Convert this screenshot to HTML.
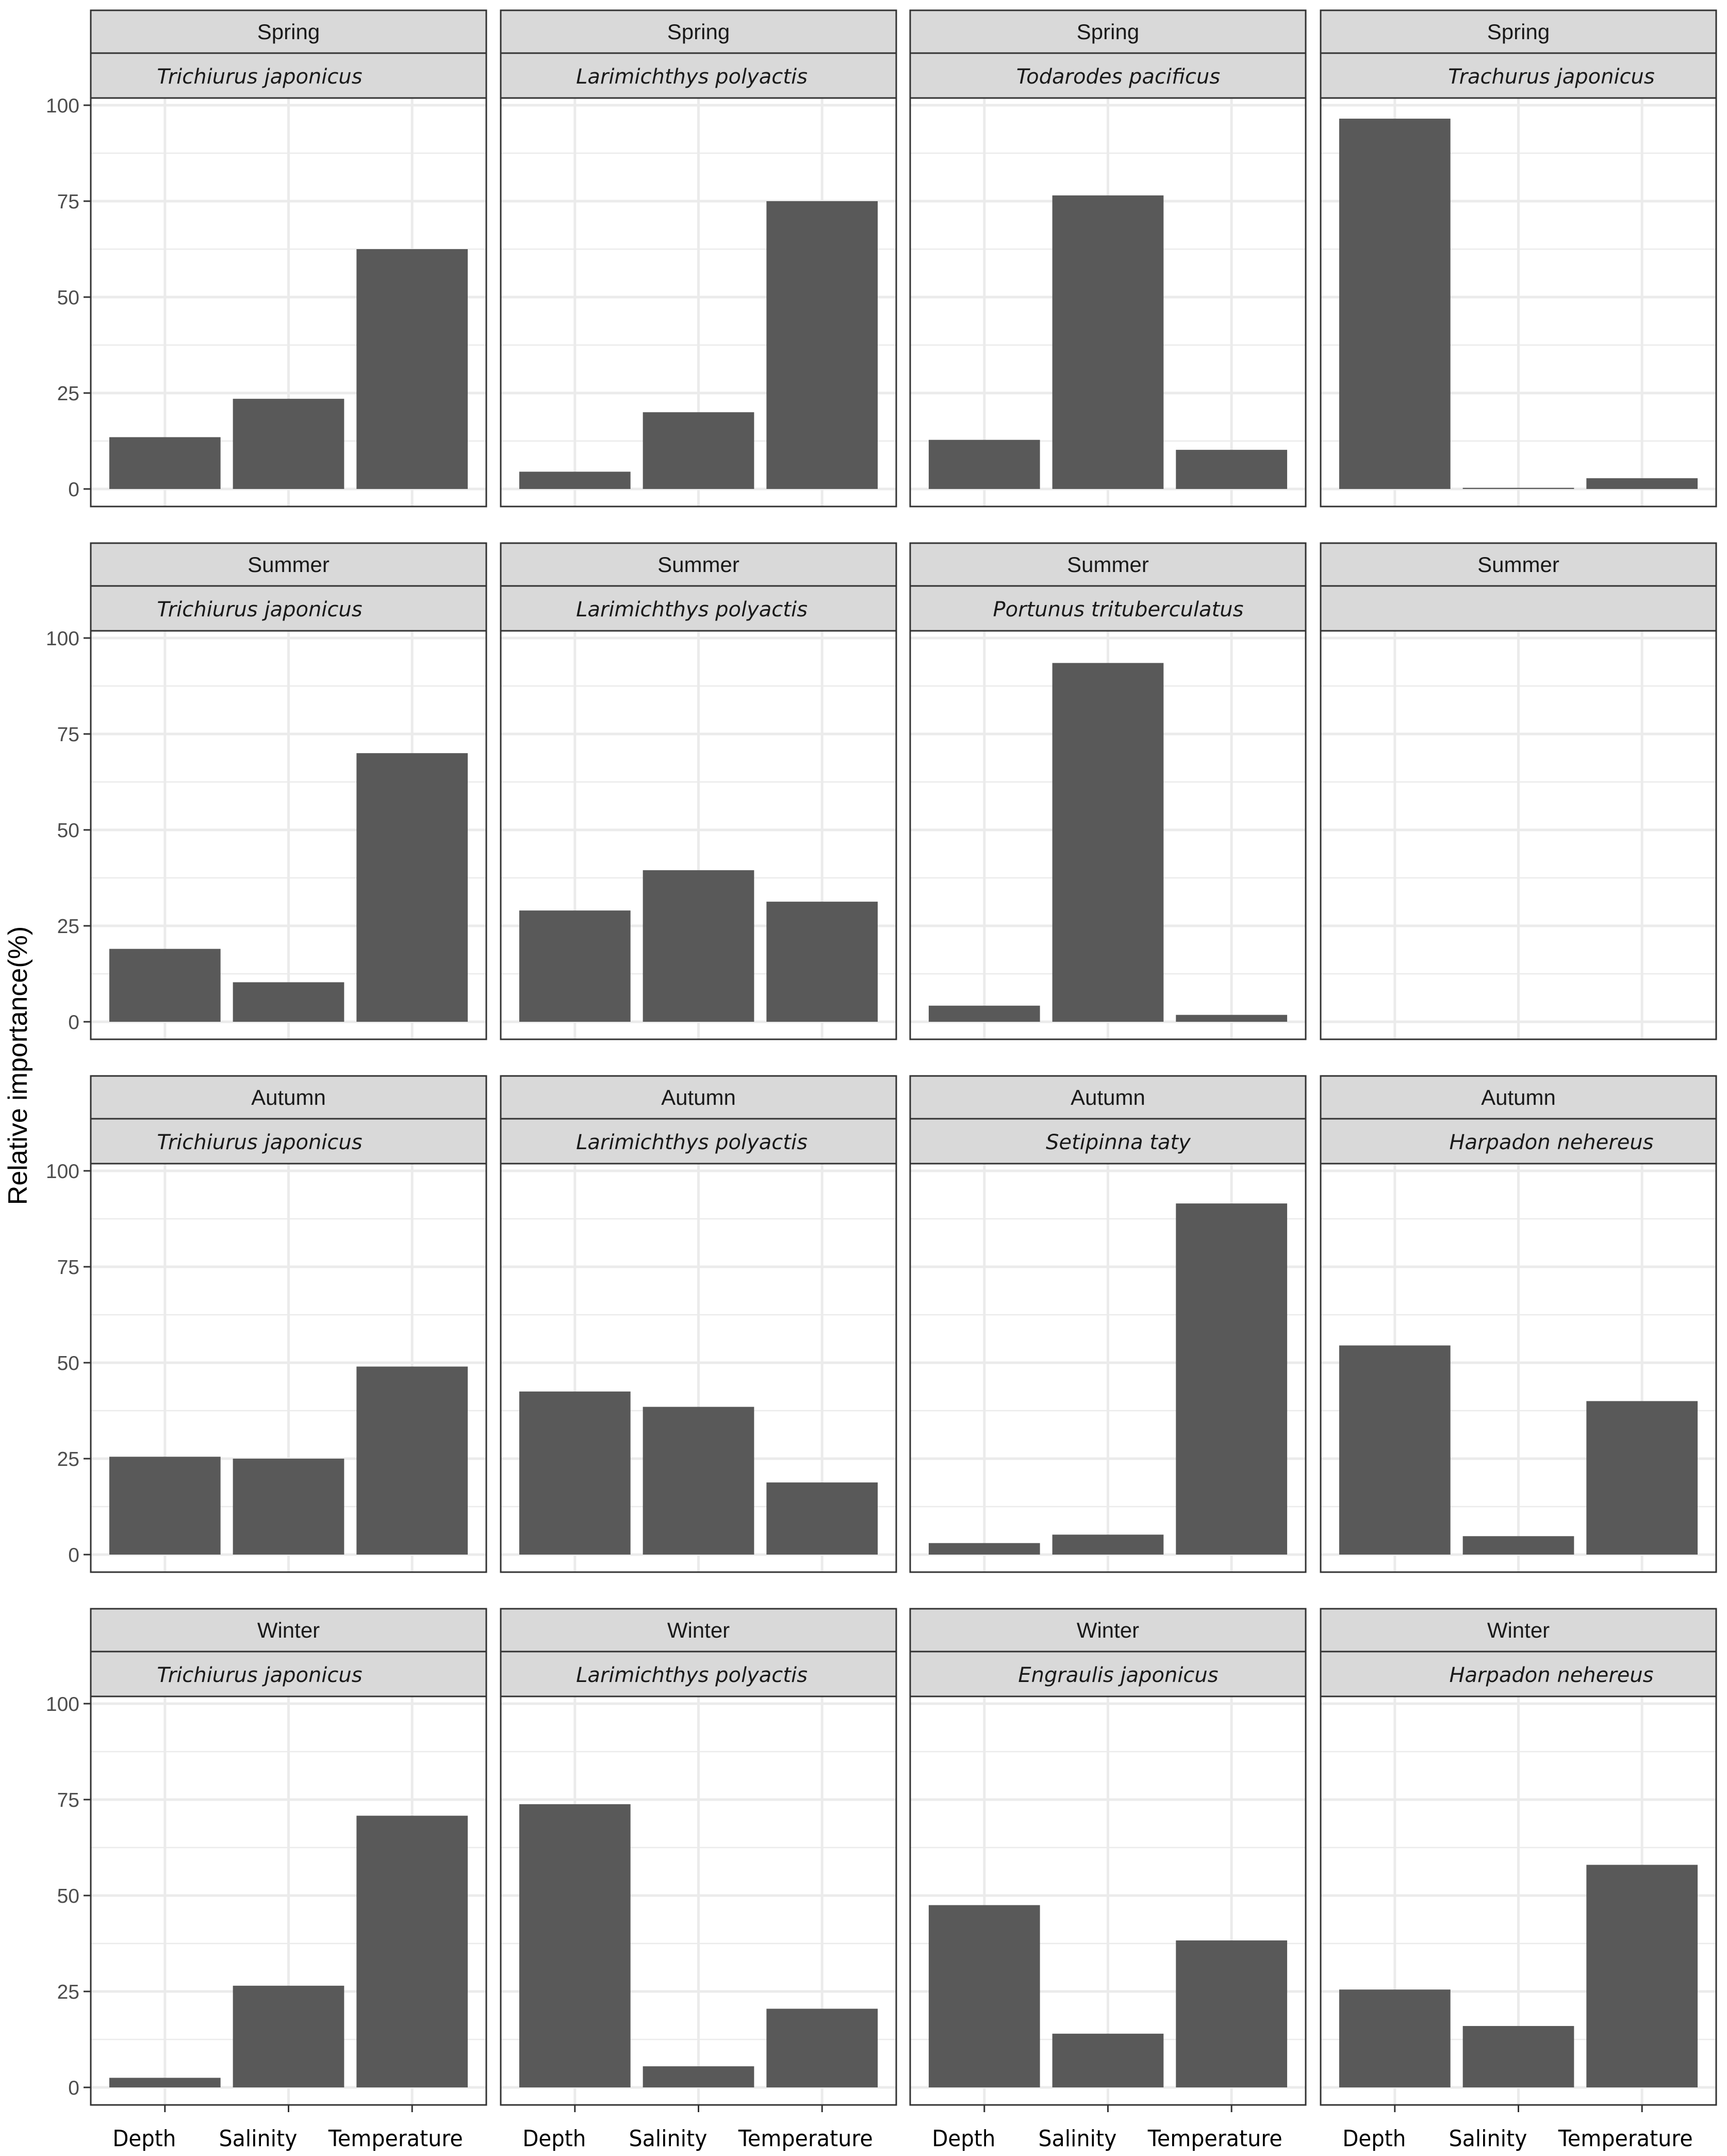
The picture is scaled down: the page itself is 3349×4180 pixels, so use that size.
<!DOCTYPE html>
<html><head><meta charset="utf-8"><style>
html,body{margin:0;padding:0;background:#fff;}
svg{display:block;}
</style></head><body>
<svg id="chart" width="3349" height="4180" viewBox="0 0 3349 4180" xmlns="http://www.w3.org/2000/svg">
<text transform="translate(52,2066) rotate(-90)" text-anchor="middle" font-family="Liberation Sans, sans-serif" font-size="52" fill="#000">Relative importance(%)</text>
<g id="panels"></g>
</svg>
<script>
const categories = ["Depth","Salinity","Temperature"];
const seasons = ["Spring","Summer","Autumn","Winter"];
const species = [
  ["Trichiurus japonicus","Larimichthys polyactis","Todarodes pacificus","Trachurus japonicus"],
  ["Trichiurus japonicus","Larimichthys polyactis","Portunus trituberculatus",""],
  ["Trichiurus japonicus","Larimichthys polyactis","Setipinna taty","Harpadon nehereus"],
  ["Trichiurus japonicus","Larimichthys polyactis","Engraulis japonicus","Harpadon nehereus"]
];
const springValues = [[13.5,23.5,62.5],[4.5,20,75],[12.8,76.5,10.2],[96.5,0.3,2.8]];
const summerValues = [[19,10.3,70],[29,39.5,31.3],[4.2,93.5,1.8],null];
const autumnValues = [[25.5,25,49],[42.5,38.5,18.8],[3,5.2,91.5],[54.5,4.8,40]];
const winterValues = [[2.5,26.5,70.8],[73.8,5.5,20.5],[47.5,14,38.3],[25.5,16,58]];
const yTicks = [0,25,50,75,100];
const yMinor = [12.5,37.5,62.5,87.5];

const allValues = [springValues, summerValues, autumnValues, winterValues];
const NS = "http://www.w3.org/2000/svg";
const root = document.getElementById("panels");
const colX = [176, 971, 1765, 2561];
const panelW = 767;
const rowTop0 = 20, rowPitch = 1033;
const spOffset = [-56, -13, 20, 64];
const xLabOffset = [-40, -59, -32];
const xLabLen = [123, 152, 261];

function mk(tag, attrs, parent){
  const e = document.createElementNS(NS, tag);
  for (const k in attrs) e.setAttribute(k, attrs[k]);
  parent.appendChild(e);
  return e;
}

for (let r = 0; r < 4; r++) {
  const top = rowTop0 + r * rowPitch;
  const pTop = top + 170, pBot = top + 962;
  const yScale = v => (top + 928) - v * 7.44;
  for (let c = 0; c < 4; c++) {
    const x0 = colX[c];
    const xScale = i => x0 + (i + 0.6) * (panelW / 3.2);
    const g = mk("g", {}, root);
    
    
    mk("rect", {x:x0, y:pTop, width:panelW, height:pBot-pTop, fill:"#fff"}, g);
    yMinor.forEach(v => mk("line", {x1:x0, x2:x0+panelW, y1:yScale(v), y2:yScale(v), stroke:"#ebebeb", "stroke-width":2.5}, g));
    yTicks.forEach(v => mk("line", {x1:x0, x2:x0+panelW, y1:yScale(v), y2:yScale(v), stroke:"#ebebeb", "stroke-width":5}, g));
    categories.forEach((cat,i) => mk("line", {x1:xScale(i), x2:xScale(i), y1:pTop, y2:pBot, stroke:"#ebebeb", "stroke-width":5}, g));
    const vals = allValues[r][c];
    if (vals) {
      vals.forEach((v,i) => {
        const bw = panelW / 3.2 * 0.9;
        const b = mk("rect", {x:xScale(i)-bw/2, y:yScale(v), width:bw, height:Math.max(yScale(0)-yScale(v),1), fill:"#595959"}, g);
        
        
      });
    }
    mk("rect", {x:x0, y:pTop, width:panelW, height:pBot-pTop, fill:"none", stroke:"#333", "stroke-width":3}, g);
    const s1 = mk("rect", {x:x0, y:top, width:panelW, height:83, fill:"#d9d9d9", stroke:"#333", "stroke-width":3}, g);
    
    
    const s2 = mk("rect", {x:x0, y:top+83, width:panelW, height:87, fill:"#d9d9d9", stroke:"#333", "stroke-width":3}, g);
    
    
    const t1 = mk("text", {x:x0+panelW/2, y:top+56, "text-anchor":"middle", "font-family":"Liberation Sans, sans-serif", "font-size":42, fill:"#1a1a1a"}, g);
    t1.textContent = seasons[r];
    
    
    if (species[r][c]) {
      const t2 = mk("text", {x:x0+panelW/2+spOffset[c], y:top+142, "text-anchor":"middle", "font-family":"DejaVu Sans, sans-serif", "font-style":"italic", "font-size":40, fill:"#1a1a1a"}, g);
      t2.textContent = species[r][c];
      
      
    }
    if (c === 0) {
      yTicks.forEach(v => {
        mk("line", {x1:x0-14, x2:x0, y1:yScale(v), y2:yScale(v), stroke:"#333", "stroke-width":3}, g);
        const t = mk("text", {x:x0-22, y:yScale(v)+14, "text-anchor":"end", "font-family":"Liberation Sans, sans-serif", "font-size":39, fill:"#4d4d4d"}, g);
        t.textContent = v;
        
        
      });
    }
    if (r === 3) {
      categories.forEach((cat,i) => {
        mk("line", {x1:xScale(i), x2:xScale(i), y1:pBot, y2:pBot+14, stroke:"#333", "stroke-width":3}, g);
        const t = mk("text", {x:xScale(i)+xLabOffset[i], y:pBot+80, "text-anchor":"middle", "font-family":"DejaVu Sans, sans-serif", "font-size":44, fill:"#000", textLength:xLabLen[i], lengthAdjust:"spacingAndGlyphs"}, g);
        t.textContent = cat;
        
        
      });
    }
  }
}
</script>
</body></html>
